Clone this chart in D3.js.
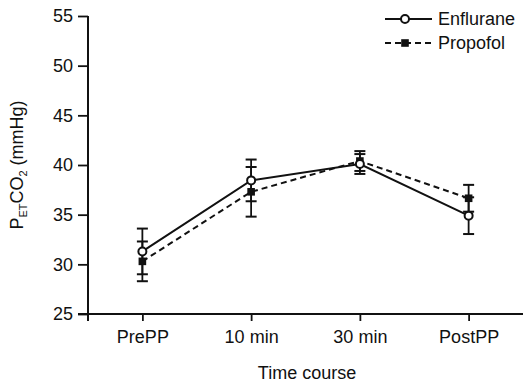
<!DOCTYPE html>
<html>
<head>
<meta charset="utf-8">
<script src="https://cdn.jsdelivr.net/npm/d3@7"></script>
<style>
  body { margin: 0; background: #fff; }
  svg { display: block; font-family: "Liberation Sans", Arial, sans-serif; }
  .tick text { font-size: 18px; fill: #111; }
  .tick line { stroke: #111; stroke-width: 1.8; }
</style>
</head>
<body>
<svg width="523" height="382"></svg>
<script>
  "use strict";
  // data (mean, SD)
  const categories = ["PrePP", "10 min", "30 min", "PostPP"];
  const yTicks = [25, 30, 35, 40, 45, 50, 55];
  const enfluraneMean = [31.3, 38.45, 40.1, 34.9];
  const enfluraneSd = [2.3, 2.1, 1.0, 1.85];
  const propofolMean = [30.3, 37.3, 40.4, 36.65];
  const propofolSd = [2.0, 2.5, 1.0, 1.35];

  const svg = d3.select("svg");
  const width = +svg.attr("width");

  const x = d3.scalePoint().domain(categories).range([88, width]).padding(0.5);
  const y = d3.scaleLinear().domain([25, 55]).range([314, 16]);

  // y axis
  const yAxisG = svg.append("g")
    .attr("transform", "translate(88,0)")
    .call(d3.axisLeft(y).tickValues(yTicks).tickSize(10).tickPadding(5));
  yAxisG.select(".domain").remove();

  // x axis
  const xAxisG = svg.append("g")
    .attr("transform", "translate(0,314)")
    .call(d3.axisBottom(x).tickSize(7).tickPadding(9));
  xAxisG.select(".domain").remove();

  svg.append("line")
    .attr("x1", 88).attr("x2", 88).attr("y1", y(55)).attr("y2", 321)
    .attr("stroke", "#111").attr("stroke-width", 2);
  svg.append("line")
    .attr("x1", 78).attr("x2", width).attr("y1", 314).attr("y2", 314)
    .attr("stroke", "#111").attr("stroke-width", 2);

  // axis titles
  svg.append("text")
    .attr("x", 307).attr("y", 379)
    .attr("text-anchor", "middle")
    .attr("font-size", 18).attr("fill", "#111")
    .text("Time course");

  const yLabel = svg.append("text")
    .attr("transform", "translate(23,165) rotate(-90)")
    .attr("text-anchor", "middle")
    .attr("font-size", 18).attr("fill", "#111");
  yLabel.append("tspan").text("P");
  yLabel.append("tspan").attr("font-size", 11).attr("dy", 4).text("ET");
  yLabel.append("tspan").attr("dy", -4).text("CO");
  yLabel.append("tspan").attr("font-size", 11).attr("dy", 4).text("2");
  yLabel.append("tspan").attr("dy", -4).text(" (mmHg)");

  const series = [
    { name: "Enflurane", mean: enfluraneMean, sd: enfluraneSd, dash: null, marker: "circle" },
    { name: "Propofol", mean: propofolMean, sd: propofolSd, dash: "6,4", marker: "square" }
  ];

  const line = d3.line()
    .x((d, i) => x(categories[i]))
    .y((d) => y(d));

  const drawMarker = (g, type, cx, cy) => {
    if (type === "circle") {
      g.append("circle")
        .attr("cx", cx).attr("cy", cy).attr("r", 4)
        .attr("fill", "#fff").attr("stroke", "#111").attr("stroke-width", 2);
    } else {
      g.append("rect")
        .attr("x", cx - 3.8).attr("y", cy - 3.8)
        .attr("width", 7.6).attr("height", 7.6)
        .attr("fill", "#111");
    }
  };

  // error bars first
  series.forEach((s) => {
    const g = svg.append("g").attr("stroke", "#111");
    s.mean.forEach((m, i) => {
      const cx = x(categories[i]);
      const hi = y(m + s.sd[i]);
      const lo = y(m - s.sd[i]);
      g.append("line").attr("x1", cx).attr("x2", cx).attr("y1", hi).attr("y2", lo)
        .attr("stroke-width", 1.8);
      [hi, lo].forEach((yy) => {
        g.append("line").attr("x1", cx - 5.5).attr("x2", cx + 5.5)
          .attr("y1", yy).attr("y2", yy).attr("stroke-width", 2);
      });
    });
  });

  // lines and markers (propofol under enflurane)
  series.slice().reverse().forEach((s) => {
    svg.append("path")
      .datum(s.mean)
      .attr("d", line)
      .attr("fill", "none")
      .attr("stroke", "#111")
      .attr("stroke-width", 2)
      .attr("stroke-dasharray", s.dash);
  });
  series.slice().reverse().forEach((s) => {
    const g = svg.append("g");
    s.mean.forEach((m, i) => drawMarker(g, s.marker, x(categories[i]), y(m)));
  });

  // legend
  const legend = svg.append("g");
  series.forEach((s, i) => {
    const ly = 19 + i * 24;
    legend.append("line")
      .attr("x1", 385).attr("x2", 432).attr("y1", ly).attr("y2", ly)
      .attr("stroke", "#111").attr("stroke-width", 2)
      .attr("stroke-dasharray", s.dash);
    drawMarker(legend, s.marker, 405, ly);
    legend.append("text")
      .attr("x", 438).attr("y", ly)
      .attr("dy", "0.35em")
      .attr("font-size", 18).attr("fill", "#111")
      .text(s.name);
  });
</script>
</body>
</html>
